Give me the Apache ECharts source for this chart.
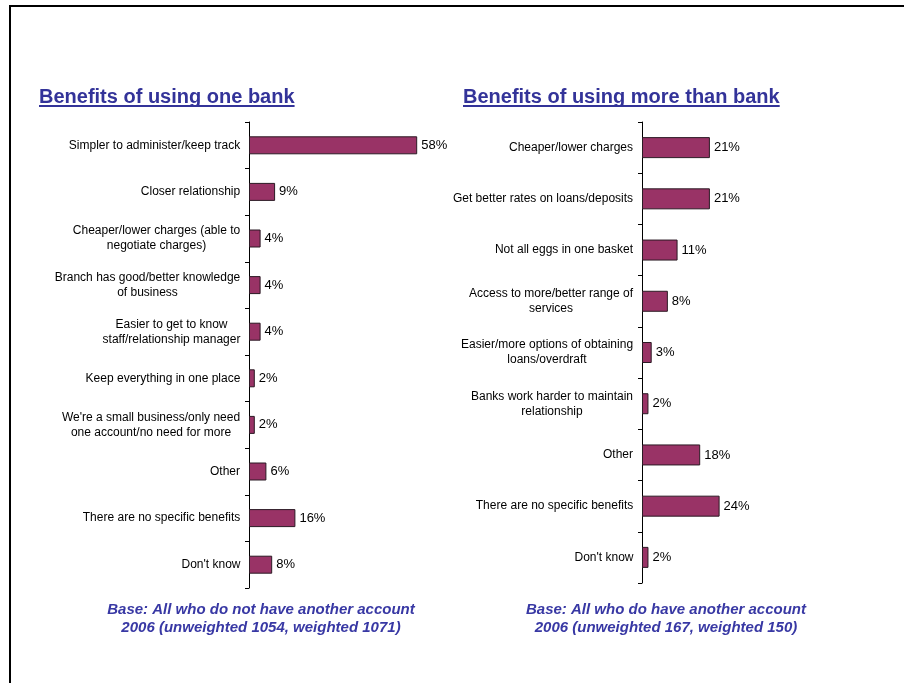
<!DOCTYPE html>
<html>
<head>
<meta charset="utf-8">
<script src="https://cdn.jsdelivr.net/npm/echarts@6/dist/echarts.min.js"></script>
<style>
  html, body { margin: 0; padding: 0; background: #fff; }
  #chart { width: 904px; height: 683px; }
</style>
</head>
<body>
<div id="chart"></div>
<script>
// Reasons given for using one bank
const oneBankCategories = [
  'Simpler to administer/keep track',
  'Closer relationship',
  'Cheaper/lower charges (able to\nnegotiate charges)',
  'Branch has good/better knowledge\nof business',
  'Easier to get to know\nstaff/relationship manager',
  'Keep everything in one place',
  "We're a small business/only need\none account/no need for more",
  'Other',
  'There are no specific benefits',
  "Don't know"
];
const oneBankValues = [58, 9, 4, 4, 4, 2, 2, 6, 16, 8];

// Reasons given for using more than one bank
const multiBankCategories = [
  'Cheaper/lower charges',
  'Get better rates on loans/deposits',
  'Not all eggs in one basket',
  'Access to more/better range of\nservices',
  'Easier/more options of obtaining\nloans/overdraft',
  'Banks work harder to maintain\nrelationship',
  'Other',
  'There are no specific benefits',
  "Don't know"
];
const multiBankValues = [21, 21, 11, 8, 3, 2, 18, 24, 2];

const panelTitles = ['Benefits of using one bank', 'Benefits of using more than bank'];
const baseNotes = [
  ['Base: All who do not have another account', '2006 (unweighted 1054, weighted 1071)'],
  ['Base: All who do have another account', '2006 (unweighted 167, weighted 150)']
];

const FONT = '"Liberation Sans", Arial, Helvetica, sans-serif';
const TITLE_COLOR = '#333399';
const NOTE_COLOR = '#3838a4';
const BAR_COLOR = '#993366';

const measureCtx = document.createElement('canvas').getContext('2d');
function textWidth(str, font) {
  measureCtx.font = font;
  return measureCtx.measureText(str).width;
}

// Multi-line category labels: the block is right-aligned to the axis,
// while the lines inside each block are centred on one another.
function labelSetup(categories, prefix) {
  const rich = {};
  categories.forEach((c, i) => {
    const w = Math.max(...c.split('\n').map(l => textWidth(l, '12px ' + FONT)));
    rich[prefix + i] = {
      width: Math.ceil(w) + 1,
      align: 'center',
      fontSize: 12,
      lineHeight: 15,
      fontFamily: FONT,
      color: '#000'
    };
  });
  return {
    rich,
    formatter: (value, index) =>
      value.split('\n').map(l => '{' + prefix + index + '|' + l + '}').join('\n')
  };
}

const leftLabels = labelSetup(oneBankCategories, 'a');
const rightLabels = labelSetup(multiBankCategories, 'b');

function categoryAxis(gridIndex, data, labels) {
  return {
    type: 'category',
    gridIndex,
    data,
    inverse: true,
    axisLine: { show: true, lineStyle: { color: '#000', width: 1 } },
    axisTick: { show: true, length: 4, lineStyle: { color: '#000', width: 1 } },
    splitLine: { show: false },
    axisLabel: {
      margin: 8,
      fontSize: 12,
      fontFamily: FONT,
      color: '#000',
      lineHeight: 15,
      interval: 0,
      formatter: labels.formatter,
      rich: labels.rich
    }
  };
}

function valueAxis(gridIndex, max) {
  return {
    type: 'value',
    gridIndex,
    min: 0,
    max,
    show: false,
    splitLine: { show: false }
  };
}

function barSeries(axisIndex, values, barWidth) {
  return {
    type: 'bar',
    xAxisIndex: axisIndex,
    yAxisIndex: axisIndex,
    data: values,
    barWidth,
    itemStyle: { color: BAR_COLOR, borderColor: '#2b1a24', borderWidth: 1 },
    label: {
      show: true,
      position: 'right',
      distance: 4,
      formatter: '{c}%',
      fontSize: 13,
      fontFamily: FONT,
      color: '#000'
    },
    animation: false
  };
}

const titleFont = 'bold 20px ' + FONT;
const noteFont = 'italic bold 15px ' + FONT;
const titleX = [39, 463];
const noteX = [261, 666];

const graphics = [
  // page frame (top and left edges)
  { type: 'line', shape: { x1: 9, y1: 6, x2: 904, y2: 6 }, style: { stroke: '#000', lineWidth: 2 } },
  { type: 'line', shape: { x1: 10, y1: 5, x2: 10, y2: 683 }, style: { stroke: '#000', lineWidth: 2 } }
];
panelTitles.forEach((t, i) => {
  graphics.push({
    type: 'text', x: titleX[i], y: 97,
    style: { text: t, font: titleFont, fill: TITLE_COLOR,
             align: 'left', verticalAlign: 'middle', textAlign: 'left', textVerticalAlign: 'middle' }
  });
  graphics.push({
    type: 'rect',
    shape: { x: titleX[i], y: 105, width: textWidth(t, titleFont), height: 2 },
    style: { fill: TITLE_COLOR }
  });
});
baseNotes.forEach((lines, i) => {
  lines.forEach((l, j) => {
    graphics.push({
      type: 'text', x: noteX[i], y: 610 + j * 18,
      style: { text: l, font: noteFont, fill: NOTE_COLOR,
               align: 'center', verticalAlign: 'middle', textAlign: 'center', textVerticalAlign: 'middle' }
    });
  });
});

const chart = echarts.init(document.getElementById('chart'), null, { renderer: 'canvas' });
chart.setOption({
  animation: false,
  backgroundColor: '#fff',
  grid: [
    { left: 249, top: 122, width: 174, height: 466 },
    { left: 642, top: 122, width: 97, height: 461 }
  ],
  xAxis: [valueAxis(0, 60), valueAxis(1, 30)],
  yAxis: [
    categoryAxis(0, oneBankCategories, leftLabels),
    categoryAxis(1, multiBankCategories, rightLabels)
  ],
  series: [
    barSeries(0, oneBankValues, 18),
    barSeries(1, multiBankValues, 21)
  ],
  graphic: graphics
});
</script>
</body>
</html>
